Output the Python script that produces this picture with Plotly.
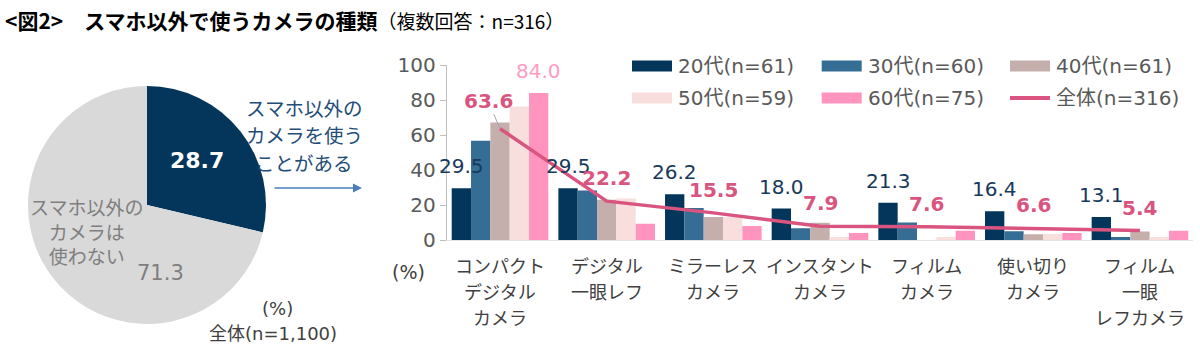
import plotly.graph_objects as go

W, H = 1200, 352

# ---------------- data ----------------
pie_labels = ["スマホ以外のカメラを使うことがある", "スマホ以外のカメラは使わない"]
pie_values = [28.7, 71.3]

categories = ["コンパクト<br>デジタル<br>カメラ", "デジタル<br>一眼レフ", "ミラーレス<br>カメラ",
              "インスタント<br>カメラ", "フィルム<br>カメラ", "使い切り<br>カメラ",
              "フィルム<br>一眼<br>レフカメラ"]
series_names = ["20代(n=61)", "30代(n=60)", "40代(n=61)", "50代(n=59)", "60代(n=75)"]
age20 = [29.5, 29.5, 26.2, 18.0, 21.3, 16.4, 13.1]
age30 = [56.7, 28.3, 18.3, 6.7, 10.0, 5.0, 1.7]
age40 = [67.2, 23.0, 13.1, 9.8, 0.0, 3.3, 4.9]
age50 = [76.3, 23.7, 13.0, 1.7, 1.7, 3.4, 1.7]
age60 = [84.0, 9.3, 8.0, 4.0, 5.3, 4.0, 5.3]
total_name = "全体(n=316)"
total = [63.6, 22.2, 15.5, 7.9, 7.6, 6.6, 5.4]
y_ticks = [0, 20, 40, 60, 80, 100]

# ---------------- styles ----------------
NAVY = "#03365a"
C30 = "#356d95"
C40 = "#c5afad"
C50 = "#f8dfde"
C60 = "#ff95be"
PINK = "#d9557f"
GREY = "#d9d9d9"
TXT = "#595959"
FONT = "DejaVu Sans, Noto Sans CJK JP, sans-serif"
JFONT = "Noto Sans CJK JP, DejaVu Sans, sans-serif"
colors = [NAVY, C30, C40, C50, C60]
series = [age20, age30, age40, age50, age60]
BARGAP = 0.094


def px(x):
    return x / W


def py(y):
    return 1 - y / H


fig = go.Figure()

fig.add_trace(go.Pie(
    labels=pie_labels, values=pie_values, sort=False, direction="clockwise", rotation=0,
    marker=dict(colors=[NAVY, GREY], line=dict(width=0)), textinfo="none",
    domain=dict(x=[px(28), px(266)], y=[py(324), py(86)]), showlegend=False,
))

for name, vals, col in zip(series_names, series, colors):
    fig.add_trace(go.Bar(
        x=categories, y=vals, name=name, marker=dict(color=col, line=dict(width=0)),
        showlegend=False,
    ))

fig.add_trace(go.Scatter(
    x=categories, y=total, name=total_name, mode="lines",
    line=dict(color=PINK, width=3.5), showlegend=False,
))

fig.update_layout(
    width=W, height=H, margin=dict(l=0, r=0, t=0, b=0, autoexpand=False),
    paper_bgcolor="white", plot_bgcolor="white",
    barmode="group", bargap=BARGAP, bargroupgap=0,
    font=dict(family=FONT, color=TXT),
    xaxis=dict(domain=[px(446.7), px(1193.3)], range=[-0.5, len(categories) - 0.5],
               showline=True, linecolor="#e3e3e3", showticklabels=False,
               ticks="", showgrid=False, automargin=False),
    yaxis=dict(domain=[py(240), py(65)], range=[0, 100], tickvals=y_ticks, showline=True,
               linecolor="#bfbfbf", ticks="outside", ticklen=6, tickcolor="#bfbfbf",
               showgrid=False, zeroline=False, automargin=False,
               tickfont=dict(size=20, color=TXT, family=FONT)),
)


def note(x, y, text, size, color, family=FONT, xanchor="center"):
    return dict(xref="paper", yref="paper", x=px(x), y=py(y), xanchor=xanchor,
                yanchor="middle", showarrow=False, text=text,
                font=dict(size=size, color=color, family=family))


ann = []
# title
ann.append(note(3, 20, "<b>&lt;図2&gt;　スマホ以外で使うカメラの種類</b>"
                "<span style='font-size:19px'>（複数回答：n=316）</span>",
                21, "#000000", JFONT, xanchor="left"))
# pie labels
ann.append(note(197, 160, f"<b>{pie_values[0]:.1f}</b>", 22, "white"))
ann.append(note(86, 231, "スマホ以外の<br>カメラは<br>使わない", 19, "#7f7f7f", JFONT))
ann.append(note(160, 273, f"{pie_values[1]:.1f}", 21, "#7f7f7f"))
for line_text, ly in zip(["スマホ以外の", "カメラを使う", "ことがある"], [107, 134.5, 162]):
    ann.append(note(304, ly, line_text, 19.5, "#1f4e79", JFONT))
ann.append(dict(xref="paper", yref="paper", x=px(362), y=py(188), ax=-89, ay=0,
                axref="pixel", ayref="pixel", showarrow=True, arrowhead=2, arrowsize=1.2,
                arrowwidth=1.5, arrowcolor="#4a7ebb", text="", standoff=0))
ann.append(note(277, 308, "(%)", 18, "#404040"))
ann.append(note(273, 333, "全体(n=1,100)", 18, "#404040"))
ann.append(note(408, 272, "(%)", 19, "#404040"))

# category labels under the axis, one line each
for i, cat in enumerate(categories):
    for j, part in enumerate(cat.split("<br>")):
        ann.append(dict(xref="x", yref="paper", x=i, y=py(265 + 26 * j), showarrow=False,
                        xanchor="center", yanchor="middle", text=part,
                        font=dict(size=18, color="#404040", family=JFONT)))

# bar value labels (20代 all, 60代 max), placed over the bar centres of their group
n_series = len(series)
bar_w = (1 - BARGAP) / n_series


def bar_offset(k):
    return (k - (n_series - 1) / 2) * bar_w


for i, v in enumerate(age20):
    ann.append(dict(xref="x", yref="y", x=i + bar_offset(0), y=v, yshift=22, showarrow=False,
                    xanchor="center", yanchor="middle", text=f"{v:.1f}",
                    font=dict(size=20, color="#17395c", family=FONT)))
ann.append(dict(xref="x", yref="y", x=0 + bar_offset(4), y=age60[0], yshift=22, showarrow=False,
                xanchor="center", yanchor="middle", text=f"{age60[0]:.1f}",
                font=dict(size=20, color="#ff9cc3", family=FONT)))

# total line labels
for i, v in enumerate(total):
    if i == 0:
        ann.append(dict(xref="x", yref="y", x=i, y=v, ax=-12, ay=-28, showarrow=True,
                        arrowhead=0, arrowwidth=1, arrowcolor="#a6a6a6", standoff=0,
                        text=f"<b>{v:.1f}</b>", font=dict(size=20, color=PINK, family=FONT)))
    else:
        ann.append(dict(xref="x", yref="y", x=i, y=v, yshift=23, showarrow=False,
                        xanchor="center", yanchor="middle",
                        text=f"<b>{v:.1f}</b>", font=dict(size=20, color=PINK, family=FONT)))

# legend (manual, 3 columns x 2 rows)
legend_items = [(series_names[0], colors[0], "bar"), (series_names[1], colors[1], "bar"),
                (series_names[2], colors[2], "bar"), (series_names[3], colors[3], "bar"),
                (series_names[4], colors[4], "bar"), (total_name, PINK, "line")]
col_x = [632, 821.7, 1010]
row_y = [66, 98]
shapes = []
for k, (name, col, kind) in enumerate(legend_items):
    cx = col_x[k % 3]
    cy = row_y[k // 3]
    if kind == "bar":
        shapes.append(dict(type="rect", xref="paper", yref="paper", x0=px(cx), x1=px(cx + 40),
                           y0=py(cy + 5.5), y1=py(cy - 5.5), fillcolor=col, line=dict(width=0)))
    else:
        shapes.append(dict(type="line", xref="paper", yref="paper", x0=px(cx), x1=px(cx + 40),
                           y0=py(cy), y1=py(cy), line=dict(color=col, width=4)))
    ann.append(note(cx + 44, cy, name, 20, TXT, xanchor="left"))

fig.update_layout(annotations=ann, shapes=shapes)
fig.write_html("out.html")
